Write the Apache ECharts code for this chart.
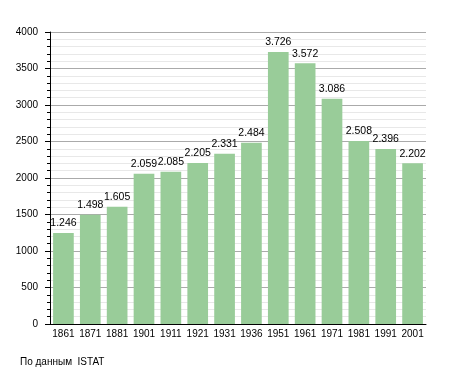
<!DOCTYPE html>
<html><head><meta charset="utf-8">
<script src="https://cdn.jsdelivr.net/npm/echarts@6/dist/echarts.min.js"></script>
<style>html,body{margin:0;padding:0;background:#fff}#c{width:455px;height:373px}</style>
</head><body><div id="c"></div>
<script>
const years = ['1861','1871','1881','1901','1911','1921','1931','1936','1951','1961','1971','1981','1991','2001'];
const population = [1246,1498,1605,2059,2085,2205,2331,2484,3726,3572,3086,2508,2396,2202];
const yTicks = {min:0, max:4000, interval:500};
const sourceNote = 'По данным  ISTAT';

const FF = 'Liberation Sans, Arial, sans-serif';
const chart = echarts.init(document.getElementById('c'));
chart.setOption({
  animation:false,
  textStyle:{fontFamily:FF},
  grid:{left:50, right:29, top:32, bottom:49},
  graphic:[{type:'text', left:20, top:357, style:{text:sourceNote, fill:'#000', fontSize:10, fontFamily:FF}}],
  xAxis:{type:'category', data:years,
    axisLine:{lineStyle:{color:'#000', width:1}},
    axisTick:{show:false},
    axisLabel:{color:'#000', fontSize:10, margin:5, interval:0}},
  yAxis:{type:'value', min:yTicks.min, max:yTicks.max, interval:yTicks.interval,
    axisLine:{show:true, lineStyle:{color:'#000'}},
    axisTick:{show:true, length:5, lineStyle:{color:'#000'}},
    minorTick:{show:true, splitNumber:5, length:3, lineStyle:{color:'#000'}},
    splitLine:{lineStyle:{color:'#aaaaaa'}},
    minorSplitLine:{show:true, lineStyle:{color:'#e8e8e8'}},
    axisLabel:{color:'#000', fontSize:10, margin:12, formatter:v=>String(v)}},
  series:[{type:'bar', data:population, barCategoryGap:'23%',
    itemStyle:{color:'#99cc99'},
    label:{show:true, position:'top', distance:4, color:'#000', fontSize:10.5,
      formatter:p=>{const v=p.value; return Math.floor(v/1000)+'.'+String(v%1000).padStart(3,'0');}}}]
});
</script></body></html>
